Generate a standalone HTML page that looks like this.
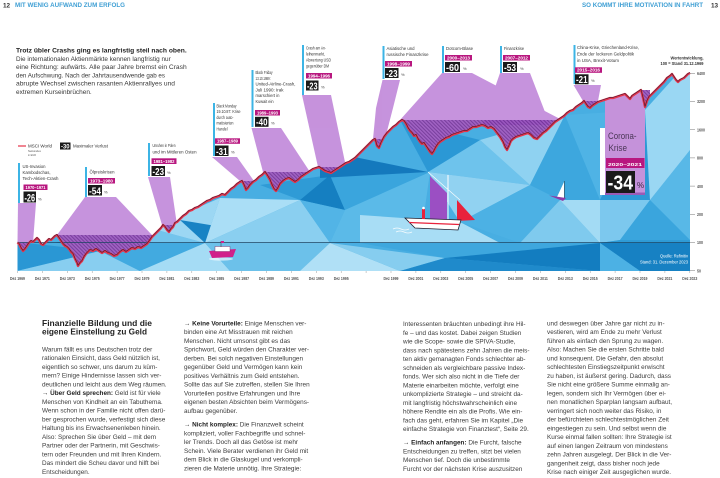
<!DOCTYPE html>
<html><head><meta charset="utf-8"><style>
html,body{margin:0;padding:0;background:#fff;}
svg{display:block;}
text{font-family:"Liberation Sans",Arial,sans-serif;}
.b{font-weight:bold;}
.lbl{font-size:4.4px;fill:#333;}
.tag{font-size:4.4px;fill:#fff;font-weight:bold;}
.num{fill:#fff;font-weight:bold;}
.pct{font-size:4px;fill:#444;}
.ax{font-size:4.2px;fill:#555;font-weight:bold;}
.bt{font-size:6.4px;fill:#3c3c3c;}
</style></head><body>
<svg width="720" height="478" viewBox="0 0 720 478" xmlns="http://www.w3.org/2000/svg">
<defs>
<clipPath id="below"><polygon points="17.5,271 17.5,242.5 19,244 21,248 23,251 25,249 27,246 29,243 31,241 33,242 35,240 37,238 39,240 41,244 43,245 45,243 47,241 49,239 51,240 53,238 55,236 57,235 59,238 61,241 63,244 65,246 67,247 69,249 71,252 73,254 75,259 77,263 78,266 80,263 82,261 84,257 86,254 88,252 90,250 93,251 96,249 99,251 102,253 105,251 108,253 111,254 114,256 117,255 120,252 123,250 126,252 129,250 132,248 135,249 138,247 141,248 144,246 147,244 150,240 152,237 155,234 158,231 161,228 163,225 165,227 167,230 169,232 171,229 173,227 175,223 177,222 180,219 183,216 186,214 189,211 192,210 195,208 198,207 201,205 204,203 207,201 210,200 213,198 216,197 219,196 222,194 225,195 228,192 231,189 234,187 237,184 240,182 242,181 244,185 246,190 248,188 250,185 253,182 256,180 259,177 262,175 265,172 267,175 270,180 272,185 274,189 276,191 278,188 280,184 283,181 286,179 289,178 292,180 295,182 298,180 301,177 304,175 307,173 310,171 313,169 316,168 319,167 322,169 325,171 328,172 331,173 334,171 337,169 340,167 343,165 346,163 349,162 352,160 355,158 358,155 361,152 364,149 367,146 370,143 373,140 375,139 377,146 379,148 381,143 384,137 387,133 390,130 393,127 396,125 399,122 402,120 404,121 406,124 408,128 410,131 412,133 414,136 416,135 418,139 420,142 422,144 424,143 426,146 428,149 430,152 432,154 434,151 436,147 438,144 440,142 443,140 446,138 449,137 452,135 455,134 458,133 461,132 464,131 467,131 470,129 473,127 476,127 479,126 482,125 485,126 488,128 491,127 494,129 497,133 500,137 503,142 505,147 507,150 509,146 511,141 513,139 516,137 519,136 522,135 525,134 528,133 531,135 534,138 537,139 540,136 543,133 546,131 549,128 552,125 555,122 558,120 561,118 564,116 567,113 570,111 573,110 576,107 579,105 582,103 584,101 586,104 588,107 590,108 592,106 595,104 598,102 601,101 604,100 607,99 610,98 613,98 616,97 619,96 622,95 625,94 628,97 630,99 632,96 635,94 638,92 641,90 643,98 645,107 647,101 649,97 652,94 655,91 658,88 661,85 664,82 667,78 670,76 672,74 674,77 676,80 678,82 680,80 682,79 684,78 686,76 688,74 690,73 690,271"/></clipPath>
<clipPath id="above"><polygon points="0,0 0,242.5 17.5,242.5 19,244 21,248 23,251 25,249 27,246 29,243 31,241 33,242 35,240 37,238 39,240 41,244 43,245 45,243 47,241 49,239 51,240 53,238 55,236 57,235 59,238 61,241 63,244 65,246 67,247 69,249 71,252 73,254 75,259 77,263 78,266 80,263 82,261 84,257 86,254 88,252 90,250 93,251 96,249 99,251 102,253 105,251 108,253 111,254 114,256 117,255 120,252 123,250 126,252 129,250 132,248 135,249 138,247 141,248 144,246 147,244 150,240 152,237 155,234 158,231 161,228 163,225 165,227 167,230 169,232 171,229 173,227 175,223 177,222 180,219 183,216 186,214 189,211 192,210 195,208 198,207 201,205 204,203 207,201 210,200 213,198 216,197 219,196 222,194 225,195 228,192 231,189 234,187 237,184 240,182 242,181 244,185 246,190 248,188 250,185 253,182 256,180 259,177 262,175 265,172 267,175 270,180 272,185 274,189 276,191 278,188 280,184 283,181 286,179 289,178 292,180 295,182 298,180 301,177 304,175 307,173 310,171 313,169 316,168 319,167 322,169 325,171 328,172 331,173 334,171 337,169 340,167 343,165 346,163 349,162 352,160 355,158 358,155 361,152 364,149 367,146 370,143 373,140 375,139 377,146 379,148 381,143 384,137 387,133 390,130 393,127 396,125 399,122 402,120 404,121 406,124 408,128 410,131 412,133 414,136 416,135 418,139 420,142 422,144 424,143 426,146 428,149 430,152 432,154 434,151 436,147 438,144 440,142 443,140 446,138 449,137 452,135 455,134 458,133 461,132 464,131 467,131 470,129 473,127 476,127 479,126 482,125 485,126 488,128 491,127 494,129 497,133 500,137 503,142 505,147 507,150 509,146 511,141 513,139 516,137 519,136 522,135 525,134 528,133 531,135 534,138 537,139 540,136 543,133 546,131 549,128 552,125 555,122 558,120 561,118 564,116 567,113 570,111 573,110 576,107 579,105 582,103 584,101 586,104 588,107 590,108 592,106 595,104 598,102 601,101 604,100 607,99 610,98 613,98 616,97 619,96 622,95 625,94 628,97 630,99 632,96 635,94 638,92 641,90 643,98 645,107 647,101 649,97 652,94 655,91 658,88 661,85 664,82 667,78 670,76 672,74 674,77 676,80 678,82 680,80 682,79 684,78 686,76 688,74 690,73 720,73 720,0"/></clipPath>
<pattern id="h" width="2.6" height="2.6" patternUnits="userSpaceOnUse" patternTransform="rotate(-45)">
<rect width="2.6" height="2.6" fill="#9651bd"/><rect width="1" height="2.6" fill="#6a2a92"/></pattern>
</defs>

<rect width="720" height="478" fill="#fff"/>

<!-- header -->
<text x="3" y="7.3" class="b" font-size="6.4" fill="#333">12</text>
<text x="15" y="7" class="b" font-size="6" fill="#3f9fd4" textLength="110" lengthAdjust="spacingAndGlyphs">MIT WENIG AUFWAND ZUM ERFOLG</text>
<text x="582" y="7" class="b" font-size="6" fill="#3f9fd4" textLength="121" lengthAdjust="spacingAndGlyphs">SO KOMMT IHRE MOTIVATION IN FAHRT</text>
<text x="711" y="7.3" class="b" font-size="6.4" fill="#333">13</text>

<!-- intro -->
<g font-size="6.8" fill="#383838">
<text x="16" y="52.5" class="b" fill="#222" textLength="170.7" lengthAdjust="spacingAndGlyphs">Trotz übler Crashs ging es langfristig steil nach oben.</text>
<text x="16" y="60.8" textLength="154.7" lengthAdjust="spacingAndGlyphs">Die internationalen Aktienmärkte kennen langfristig nur</text>
<text x="16" y="69.1" textLength="170.7" lengthAdjust="spacingAndGlyphs">eine Richtung: aufwärts. Alle paar Jahre bremst ein Crash</text>
<text x="16" y="77.4" textLength="149" lengthAdjust="spacingAndGlyphs">den Aufschwung. Nach der Jahrtausendwende gab es</text>
<text x="16" y="85.7" textLength="159" lengthAdjust="spacingAndGlyphs">abrupte Wechsel zwischen rasanten Aktienrallyes und</text>
<text x="16" y="94" textLength="75.7" lengthAdjust="spacingAndGlyphs">extremen Kurseinbrüchen.</text>
</g>

<!-- blue low-poly area -->
<g clip-path="url(#below)">
<rect x="17" y="60" width="673" height="211" fill="#48aee2"/>
<polygon points="17,242 100,251 17,271" fill="#2a97d4"/>
<polygon points="17,271 100,251 140,271" fill="#88cef0"/>
<polygon points="55,242 155,242 100,251" fill="#1782c3"/>
<polygon points="100,251 155,242 205,243 140,271" fill="#42aae0"/>
<polygon points="140,271 205,243 230,271" fill="#a5dcf5"/>
<polygon points="17,230 60,236 17,242" fill="#35a2db"/>
<polygon points="150,228 205,243 150,243" fill="#73c4ec"/>
<polygon points="150,228 220,198 205,243" fill="#9cd7f3"/>
<polygon points="180,220 228,228 205,243" fill="#1883c4"/>
<polygon points="220,198 300,200 205,243" fill="#aadef6"/>
<polygon points="205,243 300,200 330,243" fill="#8acff0"/>
<polygon points="230,271 205,243 330,243 300,271" fill="#6cc1ea"/>
<polygon points="300,271 330,243 400,271" fill="#b0e0f6"/>
<polygon points="260,185 330,175 300,200" fill="#2f9bd6"/>
<polygon points="300,200 330,175 345,210" fill="#157fc1"/>
<polygon points="300,200 345,210 330,243" fill="#52b4e6"/>
<polygon points="330,175 430,172 345,210" fill="#3aa5dd"/>
<polygon points="320,150 428,172 320,178" fill="#1479bd"/>
<polygon points="345,210 430,172 420,243 330,243" fill="#5bbae8"/>
<polygon points="360,215 460,222 500,243 360,243" fill="#a8ddf5"/>
<polygon points="330,243 445,258 400,271" fill="#86cdef"/>
<polygon points="400,271 445,258 600,271" fill="#1f8acb"/>
<polygon points="360,243 600,243 445,258" fill="#3ea7de"/>
<polygon points="445,258 600,243 600,271" fill="#137dc0"/>
<polygon points="428,172 480,140 530,185" fill="#6ec3ec"/>
<polygon points="428,172 530,185 460,222" fill="#91d2f1"/>
<polygon points="460,222 530,185 560,200 520,243" fill="#4cb1e4"/>
<polygon points="480,140 565,115 530,185" fill="#8fd2f1"/>
<polygon points="400,120 480,140 428,172" fill="#2b98d5"/>
<polygon points="530,185 565,115 600,200 560,200" fill="#3da7de"/>
<polygon points="520,243 560,200 600,243" fill="#7fcaee"/>
<polygon points="560,200 600,200 600,243" fill="#a3dbf4"/>
<polygon points="565,115 645,110 600,200" fill="#4fb3e5"/>
<polygon points="600,200 645,110 650,200" fill="#2d99d5"/>
<polygon points="600,200 650,200 620,240 600,243" fill="#7cc8ee"/>
<polygon points="650,200 690,150 690,240" fill="#58b8e7"/>
<polygon points="645,110 690,60 690,150 650,200" fill="#9ad7f3"/>
<polygon points="620,240 650,200 690,240" fill="#3aa5dd"/>
<polygon points="600,243 690,243 690,271 640,271" fill="#1781c3"/>
<polygon points="600,243 640,271 600,271" fill="#4cb1e4"/>
<polygon points="600,243 620,240 690,240 690,243" fill="#2f9bd6"/>
<!-- corona column -->
<rect x="605" y="60" width="40" height="135" fill="#c592da"/>
<rect x="605" y="192.5" width="40" height="2.5" fill="#9a5cb5"/>
</g>

<!-- funnels -->
<g clip-path="url(#above)" fill="#bd80d7" opacity="0.85">
<polygon points="18,203 36,203 33,242.5 17.5,242.5"/>
<polygon points="85,197 116,197 152,235 57,235"/>
<polygon points="148,177 170,177 177,225 162,225"/>
<polygon points="212,157 237,157 254,181 240,181"/>
<polygon points="251.5,128 281,128 310,172 263,172"/>
<polygon points="302,95 331,95 346,167 318,167"/>
<polygon points="382.5,80 400,80 393,108 385,139 373,139 376,108"/>
<polygon points="442,73 472,73 562,120 400,120"/>
<polygon points="500,73 530,73 550,125 482,125"/>
<polygon points="573.5,85 601,85 598,101 583,101"/>
</g>
<!-- hatched drawdowns -->
<g clip-path="url(#above)" fill="url(#h)" opacity="0.9">
<rect x="17.5" y="242.5" width="16" height="30"/>
<rect x="57" y="235" width="95" height="40"/>
<rect x="163" y="225" width="14" height="40"/>
<rect x="242" y="181" width="11" height="40"/>
<rect x="265" y="172" width="45" height="40"/>
<rect x="319" y="167" width="22" height="30"/>
<rect x="375" y="139" width="9" height="30"/>
<rect x="402" y="120" width="156" height="50"/>
<rect x="482" y="125" width="66" height="50"/>
<rect x="584" y="101" width="14" height="20"/>
<rect x="641" y="90" width="9" height="25"/>
</g>

<!-- 100 line -->
<line x1="17.5" y1="242.5" x2="690" y2="242.5" stroke="#1d4563" stroke-width="0.8"/>

<!-- index line -->
<polyline fill="none" stroke="#e6344a" stroke-width="2.3" stroke-linejoin="round" points="17.5,242.5 19,244 21,248 23,251 25,249 27,246 29,243 31,241 33,242 35,240 37,238 39,240 41,244 43,245 45,243 47,241 49,239 51,240 53,238 55,236 57,235 59,238 61,241 63,244 65,246 67,247 69,249 71,252 73,254 75,259 77,263 78,266 80,263 82,261 84,257 86,254 88,252 90,250 93,251 96,249 99,251 102,253 105,251 108,253 111,254 114,256 117,255 120,252 123,250 126,252 129,250 132,248 135,249 138,247 141,248 144,246 147,244 150,240 152,237 155,234 158,231 161,228 163,225 165,227 167,230 169,232 171,229 173,227 175,223 177,222 180,219 183,216 186,214 189,211 192,210 195,208 198,207 201,205 204,203 207,201 210,200 213,198 216,197 219,196 222,194 225,195 228,192 231,189 234,187 237,184 240,182 242,181 244,185 246,190 248,188 250,185 253,182 256,180 259,177 262,175 265,172 267,175 270,180 272,185 274,189 276,191 278,188 280,184 283,181 286,179 289,178 292,180 295,182 298,180 301,177 304,175 307,173 310,171 313,169 316,168 319,167 322,169 325,171 328,172 331,173 334,171 337,169 340,167 343,165 346,163 349,162 352,160 355,158 358,155 361,152 364,149 367,146 370,143 373,140 375,139 377,146 379,148 381,143 384,137 387,133 390,130 393,127 396,125 399,122 402,120 404,121 406,124 408,128 410,131 412,133 414,136 416,135 418,139 420,142 422,144 424,143 426,146 428,149 430,152 432,154 434,151 436,147 438,144 440,142 443,140 446,138 449,137 452,135 455,134 458,133 461,132 464,131 467,131 470,129 473,127 476,127 479,126 482,125 485,126 488,128 491,127 494,129 497,133 500,137 503,142 505,147 507,150 509,146 511,141 513,139 516,137 519,136 522,135 525,134 528,133 531,135 534,138 537,139 540,136 543,133 546,131 549,128 552,125 555,122 558,120 561,118 564,116 567,113 570,111 573,110 576,107 579,105 582,103 584,101 586,104 588,107 590,108 592,106 595,104 598,102 601,101 604,100 607,99 610,98 613,98 616,97 619,96 622,95 625,94 628,97 630,99 632,96 635,94 638,92 641,90 643,98 645,107 647,101 649,97 652,94 655,91 658,88 661,85 664,82 667,78 670,76 672,74 674,77 676,80 678,82 680,80 682,79 684,78 686,76 688,74 690,73"/>
<polyline fill="none" stroke="#3a1d36" stroke-width="0.6" stroke-linejoin="round" transform="translate(0,-0.6)" points="17.5,242.5 19,244 21,248 23,251 25,249 27,246 29,243 31,241 33,242 35,240 37,238 39,240 41,244 43,245 45,243 47,241 49,239 51,240 53,238 55,236 57,235 59,238 61,241 63,244 65,246 67,247 69,249 71,252 73,254 75,259 77,263 78,266 80,263 82,261 84,257 86,254 88,252 90,250 93,251 96,249 99,251 102,253 105,251 108,253 111,254 114,256 117,255 120,252 123,250 126,252 129,250 132,248 135,249 138,247 141,248 144,246 147,244 150,240 152,237 155,234 158,231 161,228 163,225 165,227 167,230 169,232 171,229 173,227 175,223 177,222 180,219 183,216 186,214 189,211 192,210 195,208 198,207 201,205 204,203 207,201 210,200 213,198 216,197 219,196 222,194 225,195 228,192 231,189 234,187 237,184 240,182 242,181 244,185 246,190 248,188 250,185 253,182 256,180 259,177 262,175 265,172 267,175 270,180 272,185 274,189 276,191 278,188 280,184 283,181 286,179 289,178 292,180 295,182 298,180 301,177 304,175 307,173 310,171 313,169 316,168 319,167 322,169 325,171 328,172 331,173 334,171 337,169 340,167 343,165 346,163 349,162 352,160 355,158 358,155 361,152 364,149 367,146 370,143 373,140 375,139 377,146 379,148 381,143 384,137 387,133 390,130 393,127 396,125 399,122 402,120 404,121 406,124 408,128 410,131 412,133 414,136 416,135 418,139 420,142 422,144 424,143 426,146 428,149 430,152 432,154 434,151 436,147 438,144 440,142 443,140 446,138 449,137 452,135 455,134 458,133 461,132 464,131 467,131 470,129 473,127 476,127 479,126 482,125 485,126 488,128 491,127 494,129 497,133 500,137 503,142 505,147 507,150 509,146 511,141 513,139 516,137 519,136 522,135 525,134 528,133 531,135 534,138 537,139 540,136 543,133 546,131 549,128 552,125 555,122 558,120 561,118 564,116 567,113 570,111 573,110 576,107 579,105 582,103 584,101 586,104 588,107 590,108 592,106 595,104 598,102 601,101 604,100 607,99 610,98 613,98 616,97 619,96 622,95 625,94 628,97 630,99 632,96 635,94 638,92 641,90 643,98 645,107 647,101 649,97 652,94 655,91 658,88 661,85 664,82 667,78 670,76 672,74 674,77 676,80 678,82 680,80 682,79 684,78 686,76 688,74 690,73"/>

<!-- boats -->
<g>
<path d="M393,229 q4,-2 8,0 t8,0 M396,232 q4,-2 8,0 t8,0" stroke="#fff" stroke-width="0.8" fill="none" opacity="0.9"/>
<polygon points="430,176 447,193 447,221 430,221" fill="#9b4fc3"/>
<line x1="428" y1="172" x2="460" y2="200" stroke="#fff" stroke-width="0.6"/>
<line x1="448" y1="175" x2="448" y2="222" stroke="#fff" stroke-width="1"/>
<polygon points="457,200 475,220 457,221" fill="#e8223c"/>
<polygon points="405,218 461,220 458,230 415,228" fill="#fff" stroke="#1e1e2e" stroke-width="0.8"/>
<line x1="409" y1="222.5" x2="459" y2="224.5" stroke="#e8223c" stroke-width="1.3"/>
<rect x="422" y="209" width="3" height="10" fill="#e8223c"/>
<circle cx="423.5" cy="208" r="1.3" fill="#fff"/>
<polygon points="557,197 564,182 564,198" fill="#fff"/>
<line x1="564.5" y1="181" x2="564.5" y2="199" stroke="#333" stroke-width="0.5"/>
<polygon points="549,195.5 566,198 563,201" fill="#8e3aa8"/>
<ellipse cx="221" cy="259" rx="12" ry="1.6" fill="#fff" opacity="0.6"/>
<polygon points="209,251 236,249 233,257 212,258" fill="#d1208a"/>
<rect x="215" y="246.5" width="15" height="5" fill="#fff" stroke="#7a1a5a" stroke-width="0.4"/>
<line x1="221" y1="241" x2="221" y2="247" stroke="#333" stroke-width="0.5"/>
<rect x="221" y="241" width="3" height="2" fill="#d1208a"/>
</g>

<!-- legend -->
<line x1="18" y1="146" x2="26" y2="146" stroke="#e6344a" stroke-width="1.2"/>
<text x="28" y="147.5" class="lbl" textLength="24" lengthAdjust="spacingAndGlyphs">MSCI World</text>
<text x="28" y="152" font-size="3" fill="#555" textLength="13" lengthAdjust="spacingAndGlyphs">Nettoindex</text>
<text x="28" y="156" font-size="3" fill="#555" textLength="8" lengthAdjust="spacingAndGlyphs">in EUR</text>
<rect x="60" y="142.5" width="10.5" height="7" fill="#1a1a1a"/>
<text x="61" y="148.5" class="num" font-size="6.5" textLength="8.5" lengthAdjust="spacingAndGlyphs">-30</text>
<text x="73" y="147.5" class="lbl" textLength="35" lengthAdjust="spacingAndGlyphs">Maximaler Verlust</text>

<!-- label 1 -->
<rect x="18" y="163" width="2" height="40" fill="#3cb4e5"/>
<text x="22.5" y="168" class="lbl" textLength="23" lengthAdjust="spacingAndGlyphs">US-Invasion</text>
<text x="22.5" y="174" class="lbl" textLength="28" lengthAdjust="spacingAndGlyphs">Kambodschas,</text>
<text x="22.5" y="180" class="lbl" textLength="36" lengthAdjust="spacingAndGlyphs">Tech-Aktien-Crash</text>
<rect x="23.5" y="184.5" width="24" height="5.5" fill="#b8177f"/>
<text x="25.5" y="188.9" class="tag" textLength="20" lengthAdjust="spacingAndGlyphs">1970–1971</text>
<rect x="23.5" y="191.5" width="12.5" height="11" fill="#1a1a1a"/>
<text x="24.5" y="201.3" class="num" font-size="11" textLength="10.5" lengthAdjust="spacingAndGlyphs">-26</text>
<text x="38" y="200.5" class="pct">%</text>

<!-- label 2 -->
<rect x="85" y="167" width="2" height="30" fill="#3cb4e5"/>
<text x="89.5" y="173.5" class="lbl" textLength="25" lengthAdjust="spacingAndGlyphs">Ölpreiskrisen</text>
<rect x="88" y="178" width="27" height="5.5" fill="#b8177f"/>
<text x="90" y="182.4" class="tag" textLength="23" lengthAdjust="spacingAndGlyphs">1973–1980</text>
<rect x="88" y="185" width="14" height="10.5" fill="#1a1a1a"/>
<text x="89" y="194.3" class="num" font-size="10.5" textLength="12" lengthAdjust="spacingAndGlyphs">-54</text>
<text x="104" y="193.5" class="pct">%</text>

<!-- label 3 -->
<rect x="148" y="143" width="2" height="33" fill="#3cb4e5"/>
<text x="152.5" y="147" class="lbl" textLength="23" lengthAdjust="spacingAndGlyphs">Unruhen in Polen</text>
<text x="152.5" y="153.5" class="lbl" textLength="44" lengthAdjust="spacingAndGlyphs">und im Mittleren Osten</text>
<rect x="151.5" y="158.3" width="25" height="5.7" fill="#b8177f"/>
<text x="153.5" y="162.8" class="tag" textLength="21" lengthAdjust="spacingAndGlyphs">1981–1982</text>
<rect x="151.5" y="166" width="13.5" height="10" fill="#1a1a1a"/>
<text x="152.5" y="174.8" class="num" font-size="10" textLength="11.5" lengthAdjust="spacingAndGlyphs">-23</text>
<text x="167" y="174" class="pct">%</text>

<!-- label 4 -->
<rect x="213" y="103" width="2" height="53" fill="#3cb4e5"/>
<text x="216.5" y="107.5" class="lbl" textLength="20" lengthAdjust="spacingAndGlyphs">Black Monday</text>
<text x="216.5" y="113.2" class="lbl" textLength="24" lengthAdjust="spacingAndGlyphs">19.10.87: Krise</text>
<text x="216.5" y="118.9" class="lbl" textLength="17" lengthAdjust="spacingAndGlyphs">durch auto-</text>
<text x="216.5" y="124.6" class="lbl" textLength="17" lengthAdjust="spacingAndGlyphs">matisierten</text>
<text x="216.5" y="130.3" class="lbl" textLength="11" lengthAdjust="spacingAndGlyphs">Handel</text>
<rect x="215" y="138.3" width="25" height="5.5" fill="#b8177f"/>
<text x="217" y="142.7" class="tag" textLength="21" lengthAdjust="spacingAndGlyphs">1987–1989</text>
<rect x="215" y="145.5" width="13.5" height="10.5" fill="#1a1a1a"/>
<text x="216" y="154.8" class="num" font-size="10.5" textLength="11.5" lengthAdjust="spacingAndGlyphs">-31</text>
<text x="231" y="153.5" class="pct">%</text>

<!-- label 5 -->
<rect x="251.5" y="70" width="2" height="57" fill="#3cb4e5"/>
<text x="255.5" y="74" class="lbl" textLength="17" lengthAdjust="spacingAndGlyphs">Black Friday</text>
<text x="255.5" y="79.8" class="lbl" textLength="15" lengthAdjust="spacingAndGlyphs">13.10.1989:</text>
<text x="255.5" y="85.6" class="lbl" textLength="40" lengthAdjust="spacingAndGlyphs">United-Airline-Crash,</text>
<text x="255.5" y="91.4" class="lbl" textLength="28" lengthAdjust="spacingAndGlyphs">Juli 1990: Irak</text>
<text x="255.5" y="97.2" class="lbl" textLength="24" lengthAdjust="spacingAndGlyphs">marschiert in</text>
<text x="255.5" y="103" class="lbl" textLength="18" lengthAdjust="spacingAndGlyphs">Kuwait ein</text>
<rect x="255" y="110" width="25" height="5.5" fill="#b8177f"/>
<text x="257" y="114.4" class="tag" textLength="21" lengthAdjust="spacingAndGlyphs">1989–1993</text>
<rect x="255" y="116.8" width="13.5" height="10" fill="#1a1a1a"/>
<text x="256" y="125.6" class="num" font-size="10" textLength="11.5" lengthAdjust="spacingAndGlyphs">-40</text>
<text x="271" y="124.5" class="pct">%</text>

<!-- label 6 -->
<rect x="302" y="45" width="2" height="50" fill="#3cb4e5"/>
<text x="306" y="49.5" class="lbl" textLength="20" lengthAdjust="spacingAndGlyphs">Crash am An-</text>
<text x="306" y="55.5" class="lbl" textLength="19" lengthAdjust="spacingAndGlyphs">leihenmarkt,</text>
<text x="306" y="61.5" class="lbl" textLength="25" lengthAdjust="spacingAndGlyphs">Abwertung USD</text>
<text x="306" y="67.5" class="lbl" textLength="23" lengthAdjust="spacingAndGlyphs">gegenüber DM</text>
<rect x="306" y="73" width="26" height="5.5" fill="#b8177f"/>
<text x="308" y="77.4" class="tag" textLength="22" lengthAdjust="spacingAndGlyphs">1994–1996</text>
<rect x="306" y="80.5" width="12.5" height="10" fill="#1a1a1a"/>
<text x="307" y="89.3" class="num" font-size="10" textLength="10.5" lengthAdjust="spacingAndGlyphs">-23</text>
<text x="321" y="88.5" class="pct">%</text>

<!-- label 7 -->
<rect x="382.5" y="46" width="2" height="33" fill="#3cb4e5"/>
<text x="386.5" y="50" class="lbl" textLength="28" lengthAdjust="spacingAndGlyphs">Asiatische und</text>
<text x="386.5" y="56" class="lbl" textLength="42" lengthAdjust="spacingAndGlyphs">russische Finanzkrise</text>
<rect x="385" y="61" width="27" height="5.5" fill="#b8177f"/>
<text x="387" y="65.4" class="tag" textLength="23" lengthAdjust="spacingAndGlyphs">1998–1999</text>
<rect x="385" y="68" width="13.5" height="10" fill="#1a1a1a"/>
<text x="386" y="76.8" class="num" font-size="10" textLength="11.5" lengthAdjust="spacingAndGlyphs">-23</text>
<text x="401" y="76" class="pct">%</text>

<!-- label 8 -->
<rect x="442" y="46" width="2" height="27" fill="#3cb4e5"/>
<text x="446" y="50" class="lbl" textLength="27" lengthAdjust="spacingAndGlyphs">Dotcom-Blase</text>
<rect x="445" y="55" width="27" height="5.5" fill="#b8177f"/>
<text x="447" y="59.4" class="tag" textLength="23" lengthAdjust="spacingAndGlyphs">2000–2013</text>
<rect x="445" y="62" width="15" height="10" fill="#1a1a1a"/>
<text x="446" y="70.8" class="num" font-size="10" textLength="13" lengthAdjust="spacingAndGlyphs">-60</text>
<text x="463" y="70" class="pct">%</text>

<!-- label 9 -->
<rect x="500" y="46" width="2" height="27" fill="#3cb4e5"/>
<text x="504" y="50" class="lbl" textLength="20" lengthAdjust="spacingAndGlyphs">Finanzkrise</text>
<rect x="503" y="55" width="27" height="5.5" fill="#b8177f"/>
<text x="505" y="59.4" class="tag" textLength="23" lengthAdjust="spacingAndGlyphs">2007–2012</text>
<rect x="503" y="62" width="14" height="10" fill="#1a1a1a"/>
<text x="504" y="70.8" class="num" font-size="10" textLength="12" lengthAdjust="spacingAndGlyphs">-53</text>
<text x="520" y="70" class="pct">%</text>

<!-- label 10 -->
<rect x="573.5" y="45" width="2" height="39" fill="#3cb4e5"/>
<text x="577" y="49" class="lbl" textLength="62" lengthAdjust="spacingAndGlyphs">China-Krise, Griechenland-Krise,</text>
<text x="577" y="55.5" class="lbl" textLength="57" lengthAdjust="spacingAndGlyphs">Ende der lockeren Geldpolitik</text>
<text x="577" y="62" class="lbl" textLength="42" lengthAdjust="spacingAndGlyphs">in USA, Brexit-Votum</text>
<rect x="575" y="67.3" width="27" height="5.5" fill="#b8177f"/>
<text x="577" y="71.7" class="tag" textLength="23" lengthAdjust="spacingAndGlyphs">2015–2016</text>
<rect x="575" y="74.3" width="13.5" height="10" fill="#1a1a1a"/>
<text x="576" y="83.1" class="num" font-size="10" textLength="11.5" lengthAdjust="spacingAndGlyphs">-21</text>
<text x="591" y="82" class="pct">%</text>

<!-- corona box -->
<rect x="600" y="128" width="5" height="67" fill="#fff"/>
<text x="608" y="139" font-size="9.5" fill="#4a3656" textLength="28.5" lengthAdjust="spacingAndGlyphs">Corona-</text>
<text x="608.5" y="151" font-size="9.5" fill="#4a3656" textLength="18.5" lengthAdjust="spacingAndGlyphs">Krise</text>
<rect x="606" y="158" width="38.5" height="10" fill="#b8177f"/>
<text x="608" y="165.8" class="tag" font-size="7" textLength="34" lengthAdjust="spacingAndGlyphs">2020–2021</text>
<rect x="606" y="171" width="29" height="22" fill="#1a1a1a"/>
<text x="607.5" y="189.5" class="num" font-size="20" textLength="25.5" lengthAdjust="spacingAndGlyphs">-34</text>
<text x="637" y="188" font-size="8" fill="#3a2a44">%</text>

<!-- top right note -->
<text x="703.5" y="59.5" class="b" font-size="4.4" fill="#333" text-anchor="end" textLength="33" lengthAdjust="spacingAndGlyphs">Wertentwicklung,</text>
<text x="703.5" y="64.8" class="b" font-size="4.4" fill="#333" text-anchor="end" textLength="43" lengthAdjust="spacingAndGlyphs">100 = Stand 31.12.1969</text>

<!-- source -->
<text x="688" y="257.5" font-size="4.4" fill="#fff" text-anchor="end" textLength="28" lengthAdjust="spacingAndGlyphs">Quelle: Refinitiv</text>
<text x="688" y="263.5" font-size="4.4" fill="#fff" text-anchor="end" textLength="48" lengthAdjust="spacingAndGlyphs">Stand: 31. Dezember 2023</text>

<!-- right axis -->
<g stroke="#777" stroke-width="0.5">
<line x1="690" y1="73.3" x2="695" y2="73.3"/><line x1="690" y1="101.5" x2="695" y2="101.5"/>
<line x1="690" y1="129.7" x2="695" y2="129.7"/><line x1="690" y1="157.9" x2="695" y2="157.9"/>
<line x1="690" y1="186.1" x2="695" y2="186.1"/><line x1="690" y1="214.3" x2="695" y2="214.3"/>
<line x1="690" y1="242.5" x2="695" y2="242.5"/><line x1="690" y1="270.7" x2="695" y2="270.7"/>
</g>
<g class="ax" font-size="4.5">
<text x="697" y="75" class="ax" textLength="8" lengthAdjust="spacingAndGlyphs">6400</text>
<text x="697" y="103.2" class="ax" textLength="8" lengthAdjust="spacingAndGlyphs">3200</text>
<text x="697" y="131.4" class="ax" textLength="8" lengthAdjust="spacingAndGlyphs">1600</text>
<text x="697" y="159.6" class="ax" textLength="6" lengthAdjust="spacingAndGlyphs">800</text>
<text x="697" y="187.8" class="ax" textLength="6" lengthAdjust="spacingAndGlyphs">400</text>
<text x="697" y="216" class="ax" textLength="6" lengthAdjust="spacingAndGlyphs">200</text>
<text x="697" y="244.2" class="ax" textLength="6" lengthAdjust="spacingAndGlyphs">100</text>
<text x="697" y="272.4" class="ax" textLength="4" lengthAdjust="spacingAndGlyphs">50</text>
</g>

<!-- x axis -->
<g stroke="#999" stroke-width="0.5">
<line x1="17.5" y1="271" x2="17.5" y2="273"/><line x1="42.4" y1="271" x2="42.4" y2="273"/><line x1="67.3" y1="271" x2="67.3" y2="273"/><line x1="92.2" y1="271" x2="92.2" y2="273"/><line x1="117.1" y1="271" x2="117.1" y2="273"/><line x1="142" y1="271" x2="142" y2="273"/><line x1="166.9" y1="271" x2="166.9" y2="273"/><line x1="191.8" y1="271" x2="191.8" y2="273"/><line x1="216.7" y1="271" x2="216.7" y2="273"/><line x1="241.6" y1="271" x2="241.6" y2="273"/><line x1="266.5" y1="271" x2="266.5" y2="273"/><line x1="291.4" y1="271" x2="291.4" y2="273"/><line x1="316.3" y1="271" x2="316.3" y2="273"/><line x1="341.2" y1="271" x2="341.2" y2="273"/><line x1="366.1" y1="271" x2="366.1" y2="273"/><line x1="391" y1="271" x2="391" y2="273"/><line x1="415.9" y1="271" x2="415.9" y2="273"/><line x1="440.8" y1="271" x2="440.8" y2="273"/><line x1="465.7" y1="271" x2="465.7" y2="273"/><line x1="490.6" y1="271" x2="490.6" y2="273"/><line x1="515.5" y1="271" x2="515.5" y2="273"/><line x1="540.4" y1="271" x2="540.4" y2="273"/><line x1="565.3" y1="271" x2="565.3" y2="273"/><line x1="590.2" y1="271" x2="590.2" y2="273"/><line x1="615.1" y1="271" x2="615.1" y2="273"/><line x1="640" y1="271" x2="640" y2="273"/><line x1="664.9" y1="271" x2="664.9" y2="273"/><line x1="689.8" y1="271" x2="689.8" y2="273"/>
</g>
<g text-anchor="middle">
<text x="17.5" y="280" class="ax" textLength="15" lengthAdjust="spacingAndGlyphs">Dez 1969</text>
<text x="42.4" y="280" class="ax" textLength="15" lengthAdjust="spacingAndGlyphs">Dez 1971</text>
<text x="67.3" y="280" class="ax" textLength="15" lengthAdjust="spacingAndGlyphs">Dez 1973</text>
<text x="92.2" y="280" class="ax" textLength="15" lengthAdjust="spacingAndGlyphs">Dez 1975</text>
<text x="117.1" y="280" class="ax" textLength="15" lengthAdjust="spacingAndGlyphs">Dez 1977</text>
<text x="142" y="280" class="ax" textLength="15" lengthAdjust="spacingAndGlyphs">Dez 1979</text>
<text x="166.9" y="280" class="ax" textLength="15" lengthAdjust="spacingAndGlyphs">Dez 1981</text>
<text x="191.8" y="280" class="ax" textLength="15" lengthAdjust="spacingAndGlyphs">Dez 1983</text>
<text x="216.7" y="280" class="ax" textLength="15" lengthAdjust="spacingAndGlyphs">Dez 1985</text>
<text x="241.6" y="280" class="ax" textLength="15" lengthAdjust="spacingAndGlyphs">Dez 1987</text>
<text x="266.5" y="280" class="ax" textLength="15" lengthAdjust="spacingAndGlyphs">Dez 1989</text>
<text x="291.4" y="280" class="ax" textLength="15" lengthAdjust="spacingAndGlyphs">Dez 1991</text>
<text x="316.3" y="280" class="ax" textLength="15" lengthAdjust="spacingAndGlyphs">Dez 1993</text>
<text x="341.2" y="280" class="ax" textLength="15" lengthAdjust="spacingAndGlyphs">Dez 1995</text>
<text x="391" y="280" class="ax" textLength="15" lengthAdjust="spacingAndGlyphs">Dez 1999</text>
<text x="415.9" y="280" class="ax" textLength="15" lengthAdjust="spacingAndGlyphs">Dez 2001</text>
<text x="440.8" y="280" class="ax" textLength="15" lengthAdjust="spacingAndGlyphs">Dez 2003</text>
<text x="465.7" y="280" class="ax" textLength="15" lengthAdjust="spacingAndGlyphs">Dez 2005</text>
<text x="490.6" y="280" class="ax" textLength="15" lengthAdjust="spacingAndGlyphs">Dez 2007</text>
<text x="515.5" y="280" class="ax" textLength="15" lengthAdjust="spacingAndGlyphs">Dez 2009</text>
<text x="540.4" y="280" class="ax" textLength="15" lengthAdjust="spacingAndGlyphs">Dez 2011</text>
<text x="565.3" y="280" class="ax" textLength="15" lengthAdjust="spacingAndGlyphs">Dez 2013</text>
<text x="590.2" y="280" class="ax" textLength="15" lengthAdjust="spacingAndGlyphs">Dez 2015</text>
<text x="615.1" y="280" class="ax" textLength="15" lengthAdjust="spacingAndGlyphs">Dez 2017</text>
<text x="640" y="280" class="ax" textLength="15" lengthAdjust="spacingAndGlyphs">Dez 2019</text>
<text x="664.9" y="280" class="ax" textLength="15" lengthAdjust="spacingAndGlyphs">Dez 2021</text>
<text x="689.8" y="280" class="ax" textLength="15" lengthAdjust="spacingAndGlyphs">Dez 2023</text>
</g>

<!-- bottom text: heading -->
<text x="42" y="325.8" class="b" font-size="8.3" fill="#222" textLength="110" lengthAdjust="spacingAndGlyphs">Finanzielle Bildung und die</text>
<text x="42" y="334.3" class="b" font-size="8.3" fill="#222" textLength="105" lengthAdjust="spacingAndGlyphs">eigene Einstellung zu Geld</text>

<!-- col 1 -->
<g class="bt">
<text x="42" y="351.3" class="bt">Warum fällt es uns Deutschen trotz der</text>
<text x="42" y="360.05" class="bt">rationalen Einsicht, dass Geld nützlich ist,</text>
<text x="42" y="368.8" class="bt">eigentlich so schwer, uns darum zu küm-</text>
<text x="42" y="377.55" class="bt">mern? Einige Hindernisse lassen sich ver-</text>
<text x="42" y="386.3" class="bt">deutlichen und leicht aus dem Weg räumen.</text>
<text x="42" y="395.05" class="bt"><tspan class="b" fill="#222">→ Über Geld sprechen:</tspan> Geld ist für viele</text>
<text x="42" y="403.8" class="bt">Menschen von Kindheit an ein Tabuthema.</text>
<text x="42" y="412.55" class="bt">Wenn schon in der Familie nicht offen darü-</text>
<text x="42" y="421.3" class="bt">ber gesprochen wurde, verfestigt sich diese</text>
<text x="42" y="430.05" class="bt">Haltung bis ins Erwachsenenleben hinein.</text>
<text x="42" y="438.8" class="bt">Also: Sprechen Sie über Geld – mit dem</text>
<text x="42" y="447.55" class="bt">Partner oder der Partnerin, mit Geschwis-</text>
<text x="42" y="456.3" class="bt">tern oder Freunden und mit Ihren Kindern.</text>
<text x="42" y="465.05" class="bt">Das mindert die Scheu davor und hilft bei</text>
<text x="42" y="473.8" class="bt">Entscheidungen.</text>
</g>

<!-- col 2 -->
<g>
<text x="184" y="325.3" class="bt"><tspan class="b" fill="#222">→ Keine Vorurteile:</tspan> Einige Menschen ver-</text>
<text x="184" y="334.05" class="bt">binden eine Art Misstrauen mit reichen</text>
<text x="184" y="342.8" class="bt">Menschen. Nicht umsonst gibt es das</text>
<text x="184" y="351.55" class="bt">Sprichwort, Geld würden den Charakter ver-</text>
<text x="184" y="360.3" class="bt">derben. Bei solch negativen Einstellungen</text>
<text x="184" y="369.05" class="bt">gegenüber Geld und Vermögen kann kein</text>
<text x="184" y="377.8" class="bt">positives Verhältnis zum Geld entstehen.</text>
<text x="184" y="386.55" class="bt">Sollte das auf Sie zutreffen, stellen Sie Ihren</text>
<text x="184" y="395.3" class="bt">Vorurteilen positive Erfahrungen und Ihre</text>
<text x="184" y="404.05" class="bt">eigenen besten Absichten beim Vermögens-</text>
<text x="184" y="412.8" class="bt">aufbau gegenüber.</text>
<text x="184" y="426.5" class="bt"><tspan class="b" fill="#222">→ Nicht komplex:</tspan> Die Finanzwelt scheint</text>
<text x="184" y="435.25" class="bt">kompliziert, voller Fachbegriffe und schnel-</text>
<text x="184" y="444" class="bt">ler Trends. Doch all das Getöse ist mehr</text>
<text x="184" y="452.75" class="bt">Schein. Viele Berater verdienen ihr Geld mit</text>
<text x="184" y="461.5" class="bt">dem Blick in die Glaskugel und verkompli-</text>
<text x="184" y="470.25" class="bt">zieren die Materie unnötig. Ihre Strategie:</text>
</g>

<!-- col 3 -->
<g>
<text x="403" y="326" class="bt">Interessenten bräuchten unbedingt ihre Hil-</text>
<text x="403" y="334.75" class="bt">fe – und das kostet. Dabei zeigen Studien</text>
<text x="403" y="343.5" class="bt">wie die Scope- sowie die SPIVA-Studie,</text>
<text x="403" y="352.25" class="bt">dass nach spätestens zehn Jahren die meis-</text>
<text x="403" y="361" class="bt">ten aktiv gemanagten Fonds schlechter ab-</text>
<text x="403" y="369.75" class="bt">schneiden als vergleichbare passive Index-</text>
<text x="403" y="378.5" class="bt">fonds. Wer sich also nicht in die Tiefe der</text>
<text x="403" y="387.25" class="bt">Materie einarbeiten möchte, verfolgt eine</text>
<text x="403" y="396" class="bt">unkomplizierte Strategie – und streicht da-</text>
<text x="403" y="404.75" class="bt">mit langfristig höchstwahrscheinlich eine</text>
<text x="403" y="413.5" class="bt">höhere Rendite ein als die Profis. Wie ein-</text>
<text x="403" y="422.25" class="bt">fach das geht, erfahren Sie im Kapitel „Die</text>
<text x="403" y="431" class="bt">einfache Strategie von Finanztest“, Seite 29.</text>
<text x="403" y="444.7" class="bt"><tspan class="b" fill="#222">→ Einfach anfangen:</tspan> Die Furcht, falsche</text>
<text x="403" y="453.45" class="bt">Entscheidungen zu treffen, sitzt bei vielen</text>
<text x="403" y="462.2" class="bt">Menschen tief. Doch die unbestimmte</text>
<text x="403" y="470.95" class="bt">Furcht vor der nächsten Krise auszusitzen</text>
</g>

<!-- col 4 -->
<g>
<text x="547" y="325.3" class="bt">und deswegen über Jahre gar nicht zu in-</text>
<text x="547" y="334.05" class="bt">vestieren, wird am Ende zu mehr Verlust</text>
<text x="547" y="342.8" class="bt">führen als einfach den Sprung zu wagen.</text>
<text x="547" y="351.55" class="bt">Also: Machen Sie die ersten Schritte bald</text>
<text x="547" y="360.3" class="bt">und konsequent. Die Gefahr, den absolut</text>
<text x="547" y="369.05" class="bt">schlechtesten Einstiegszeitpunkt erwischt</text>
<text x="547" y="377.8" class="bt">zu haben, ist äußerst gering. Dadurch, dass</text>
<text x="547" y="386.55" class="bt">Sie nicht eine größere Summe einmalig an-</text>
<text x="547" y="395.3" class="bt">legen, sondern sich Ihr Vermögen über ei-</text>
<text x="547" y="404.05" class="bt">nen monatlichen Sparplan langsam aufbaut,</text>
<text x="547" y="412.8" class="bt">verringert sich noch weiter das Risiko, in</text>
<text x="547" y="421.55" class="bt">der befürchteten schlechtestmöglichen Zeit</text>
<text x="547" y="430.3" class="bt">eingestiegen zu sein. Und selbst wenn die</text>
<text x="547" y="439.05" class="bt">Kurse einmal fallen sollten: Ihre Strategie ist</text>
<text x="547" y="447.8" class="bt">auf einen langen Zeitraum von mindestens</text>
<text x="547" y="456.55" class="bt">zehn Jahren ausgelegt. Der Blick in die Ver-</text>
<text x="547" y="465.3" class="bt">gangenheit zeigt, dass bisher noch jede</text>
<text x="547" y="474.05" class="bt">Krise nach einiger Zeit ausgeglichen wurde.</text>
</g>
</svg>
</body></html>
